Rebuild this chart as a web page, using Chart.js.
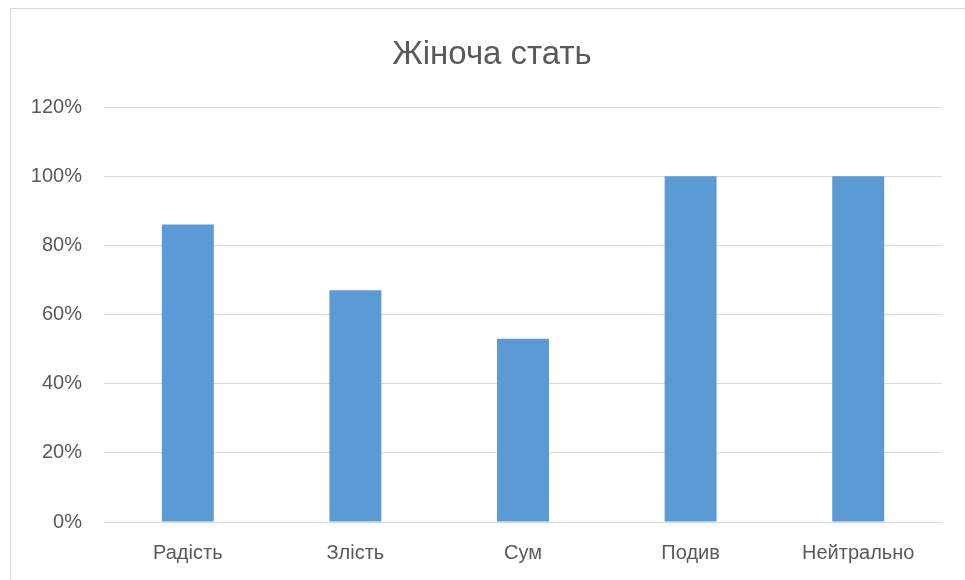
<!DOCTYPE html>
<html>
<head>
<meta charset="utf-8">
<script src="https://cdn.jsdelivr.net/npm/chart.js@4/dist/chart.umd.min.js"></script>
<style>
  html, body { margin: 0; padding: 0; background: #fff; }
  #wrap { position: relative; width: 965px; height: 580px; overflow: hidden; }
  #frame { position: absolute; left: 10px; top: 8px; width: 970px; height: 590px;
           border-left: 1px solid #d9d9d9; border-top: 1px solid #d9d9d9; box-sizing: border-box; }
  #chartFemale { position: absolute; left: 0; top: 0; }
</style>
</head>
<body>
<div id="wrap">
  <div id="frame"></div>
  <canvas id="chartFemale" width="965" height="580"></canvas>
</div>
<script>
const emotions = ['Радість', 'Злість', 'Сум', 'Подив', 'Нейтрально'];
const shares = [86, 67, 53, 100, 100];
const yTicks = [0, 20, 40, 60, 80, 100, 120];
const chartTitle = 'Жіноча стать';

const textColor = '#595959';
const gridColor = '#d9d9d9';
const fontFamily = "'Liberation Sans', Arial, sans-serif";

// title centred on the framed area rather than the canvas
const frameTitle = {
    id: 'frameTitle',
    afterDraw(chart) {
        const c = chart.ctx;
        c.save();
        c.fillStyle = textColor;
        c.font = '33px ' + fontFamily;
        c.textAlign = 'center';
        c.textBaseline = 'middle';
        c.fillText(chartTitle, 492, 55);
        c.restore();
    }
};

const ctx = document.getElementById('chartFemale').getContext('2d');
const myChart = new Chart(ctx, {
    type: 'bar',
    data: {
        labels: emotions,
        datasets: [{
            label: chartTitle,
            data: shares,
            backgroundColor: '#5b9bd5',
            borderWidth: 0,
            barPercentage: 0.31,
            categoryPercentage: 1
        }]
    },
    options: {
        responsive: false,
        animation: false,
        layout: {
            padding: { left: 0, right: 23, top: 107, bottom: 0 }
        },
        plugins: {
            legend: { display: false },
            tooltip: { enabled: false },
            title: { display: false }
        },
        scales: {
            x: {
                afterFit: function (scale) { scale.height = 58; },
                grid: { display: false, drawTicks: false },
                border: { display: false },
                ticks: {
                    color: textColor,
                    font: { family: fontFamily, size: 20 },
                    padding: 19,
                    maxRotation: 0
                }
            },
            y: {
                min: 0,
                max: 120,
                afterFit: function (scale) { scale.width = 104; },
                afterBuildTicks: function (scale) {
                    scale.ticks = yTicks.map(v => ({ value: v }));
                },
                grid: { color: gridColor, lineWidth: 1, drawTicks: false },
                border: { display: false },
                ticks: {
                    color: textColor,
                    font: { family: fontFamily, size: 20 },
                    padding: 22,
                    callback: function (v) { return v + '%'; }
                }
            }
        }
    },
    plugins: [frameTitle]
});
</script>
</body>
</html>
